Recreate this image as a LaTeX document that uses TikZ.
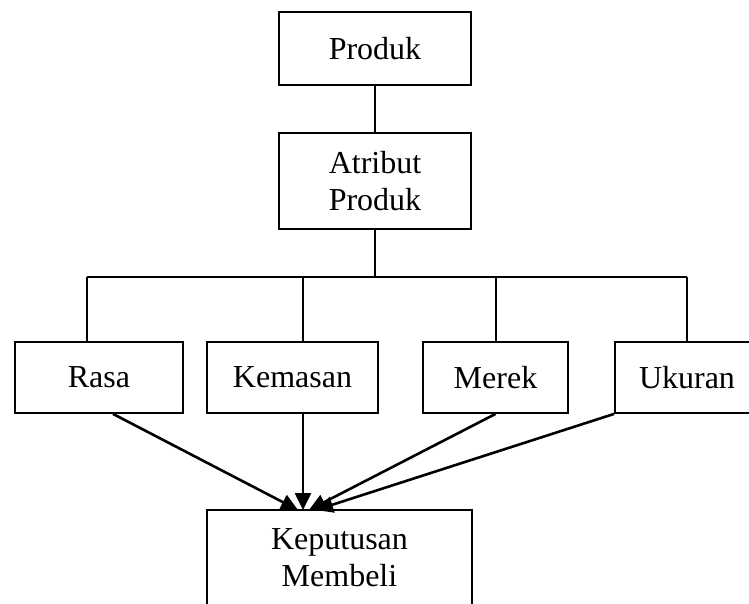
\documentclass[tikz,border=0pt]{standalone}
\usepackage{fontspec}
\setmainfont{Liberation Serif}
\usetikzlibrary{arrows.meta, positioning}
\tikzset{
      font=\fontsize{32}{37}\selectfont,     % large serif text everywhere
      box/.style      = {rectangle, draw, line width=1.8pt, inner sep=0pt,
                         align=center, minimum height=71pt},
      tallbox/.style  = {minimum height=96pt},
      link/.style     = {line width=1.8pt},
      arrow/.style    = {line width=2.6pt, -{Triangle[length=17pt,width=16pt]}}
    }

\begin{document}
\begin{tikzpicture}[x=1pt,y=-1pt]
  \clip (0,0) rectangle (749,603);
  % Top boxes
  \node[box, minimum width=192pt, minimum height=73pt] (produk) at (375,48.5) {Produk};
  \node[box, tallbox, minimum width=192pt] (atribut) at (375,181) {Atribut\\Produk};
  % Attribute row
  \node[box, minimum width=168pt] (rasa) at (99,377.5) {Rasa};
  \node[box, minimum width=171pt] (kemasan) at (292.5,377.5) {Kemasan};
  \node[box, minimum width=145pt] (merek) at (495.5,377.5) {Merek};
  \node[box, minimum width=144pt] (ukuran) at (687,377.5) {Ukuran};
  % Decision box
  \node[box, tallbox, minimum width=265pt] (keputusan) at (339.5,558) {Keputusan\\Membeli};
  % Tree connectors
  \coordinate (bus) at (375,277);
  \coordinate (tapRasa) at (87,277);
  \coordinate (tapKemasan) at (303,277);
  \coordinate (tapMerek) at (496,277);
  \coordinate (tapUkuran) at (687,277);
  \draw[link] (produk) -- (atribut);
  \draw[link] (atribut) -- (bus);
  \draw[link] (tapRasa) -- (tapUkuran);
  \foreach \t/\b in {tapRasa/rasa, tapKemasan/kemasan, tapMerek/merek, tapUkuran/ukuran}
    \draw[link] (\t) -- (\t |- \b.north);
  % Arrows into the decision
  \coordinate (inRasa) at (298,510);
  \coordinate (inKemasan) at (303,510);
  \coordinate (inMerek) at (309,510);
  \coordinate (inUkuran) at (316,510);
  \draw[arrow] ([xshift=14pt]rasa.south) -- (inRasa);
  \draw[arrow] ([xshift=10.5pt]kemasan.south) -- (inKemasan);
  \draw[arrow] (merek.south) -- (inMerek);
  \draw[arrow] (ukuran.south west) -- (inUkuran);
\end{tikzpicture}
\end{document}
